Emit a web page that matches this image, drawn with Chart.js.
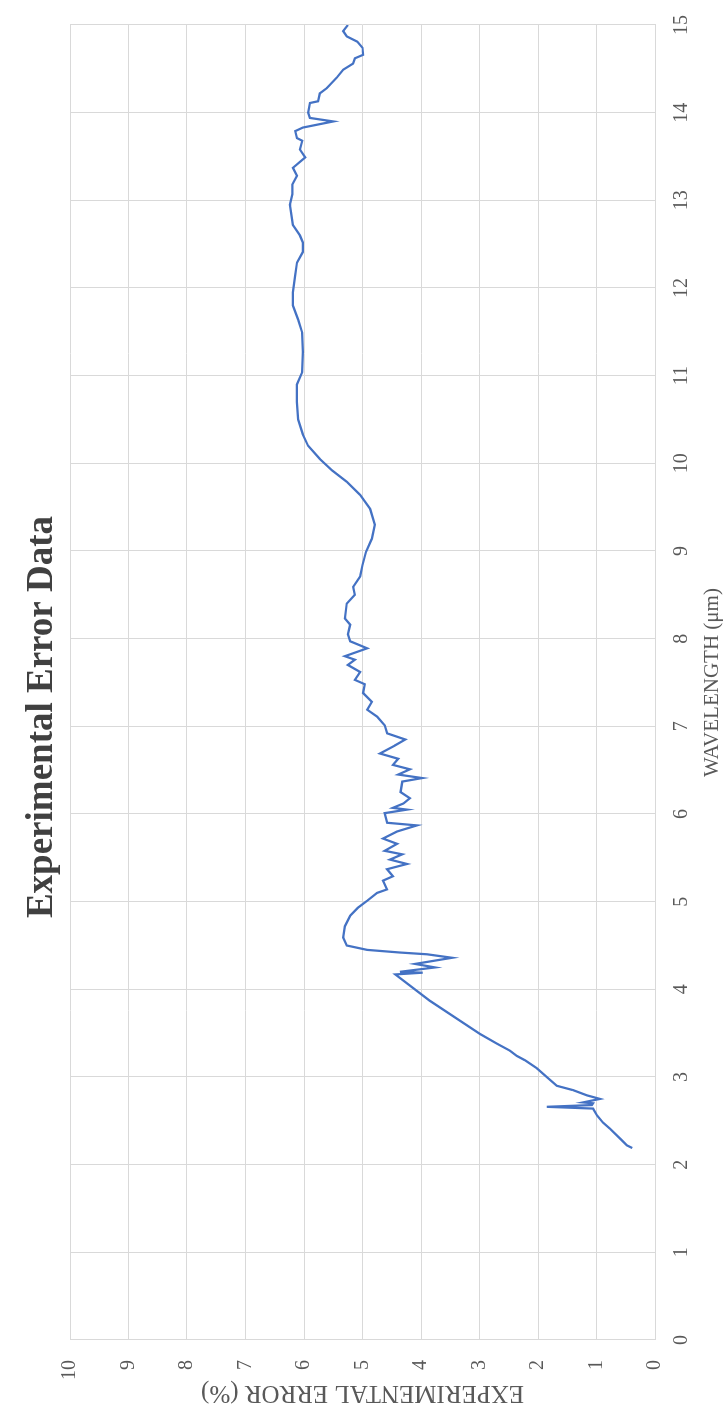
<!DOCTYPE html>
<html>
<head>
<meta charset="utf-8">
<script src="https://cdn.jsdelivr.net/npm/chart.js@4.4.1/dist/chart.umd.min.js"></script>
<style>
    html, body { margin: 0; padding: 0; background: #fff; overflow: hidden; width: 726px; height: 1412px; }
    /* wykres rysowany poziomo, potem obrócony o -90 stopni */
    #box {
        position: absolute; left: 0; top: 0;
        width: 1412px; height: 726px;
        transform-origin: 0 0;
        transform: translateY(1412px) rotate(-90deg);
    }
</style>
</head>
<body>
<div id="box"><canvas id="errorChart" width="1412" height="726"></canvas></div>
<script>
// Dane
const wavelength = [
    2.19, 2.22, 2.30, 2.41, 2.48, 2.56, 2.64, 2.66, 2.68, 2.70, 2.71, 2.75, 2.79, 2.85, 2.90,
    3.00, 3.10, 3.19, 3.24, 3.30, 3.38, 3.49, 3.87, 4.17, 4.19, 4.20, 4.25, 4.29, 4.36, 4.40,
    4.42, 4.45, 4.50, 4.59, 4.72, 4.84, 4.93, 5.01, 5.10, 5.14, 5.24, 5.29, 5.37, 5.43, 5.48,
    5.54, 5.58, 5.66, 5.72, 5.80, 5.87, 5.90, 6.01, 6.05, 6.07, 6.12, 6.18, 6.25, 6.37, 6.41,
    6.45, 6.51, 6.56, 6.63, 6.69, 6.78, 6.85, 6.92, 7.01, 7.11, 7.19, 7.28, 7.38, 7.48, 7.53,
    7.62, 7.70, 7.76, 7.80, 7.89, 7.97, 8.05, 8.16, 8.23, 8.40, 8.50, 8.59, 8.71, 8.84, 8.99,
    9.14, 9.30, 9.48, 9.64, 9.79, 9.92, 10.05, 10.20, 10.33, 10.50, 10.70, 10.90, 11.04, 11.27,
    11.49, 11.64, 11.80, 11.95, 12.14, 12.29, 12.41, 12.52, 12.60, 12.72, 12.95, 13.07, 13.18,
    13.28, 13.37, 13.49, 13.58, 13.68, 13.71, 13.79, 13.83, 13.90, 13.94, 14.00, 14.11, 14.13,
    14.22, 14.28, 14.40, 14.49, 14.56, 14.62, 14.66, 14.74, 14.81, 14.87, 14.93, 15.00
];
const errorPct = [
    0.39, 0.48, 0.60, 0.77, 0.89, 0.99, 1.06, 1.85, 1.08, 1.06, 1.23, 0.94, 1.16, 1.40, 1.68,
    1.85, 2.02, 2.22, 2.36, 2.48, 2.70, 2.99, 3.85, 4.44, 3.97, 4.36, 3.76, 4.10, 3.47, 3.90,
    4.36, 4.92, 5.27, 5.33, 5.30, 5.21, 5.08, 4.92, 4.75, 4.58, 4.65, 4.48, 4.58, 4.24, 4.53,
    4.32, 4.62, 4.41, 4.65, 4.41, 4.07, 4.58, 4.62, 4.24, 4.48, 4.30, 4.19, 4.35, 4.32, 3.98,
    4.39, 4.19, 4.48, 4.39, 4.70, 4.45, 4.27, 4.58, 4.62, 4.75, 4.92, 4.84, 4.99, 4.96, 5.13,
    5.04, 5.25, 5.13, 5.30, 4.92, 5.21, 5.25, 5.21, 5.30, 5.27, 5.13, 5.16, 5.04, 5.00, 4.94,
    4.84, 4.79, 4.87, 5.04, 5.27, 5.52, 5.73, 5.93, 6.02, 6.10, 6.12, 6.12, 6.03, 6.02,
    6.03, 6.10, 6.19, 6.19, 6.15, 6.12, 6.02, 6.02, 6.07, 6.19, 6.24, 6.20, 6.20,
    6.12, 6.19, 5.98, 6.07, 6.03, 6.12, 6.15, 6.02, 5.50, 5.90, 5.93, 5.90, 5.76,
    5.73, 5.61, 5.44, 5.33, 5.16, 5.13, 4.99, 5.00, 5.09, 5.27, 5.33, 5.25
];
const xTicks = [0, 1, 2, 3, 4, 5, 6, 7, 8, 9, 10, 11, 12, 13, 14, 15];
const yTicks = [0, 1, 2, 3, 4, 5, 6, 7, 8, 9, 10];

document.addEventListener('DOMContentLoaded', function() {
    const points = wavelength.map((w, i) => ({ x: w, y: errorPct[i] }));
    const ctx = document.getElementById('errorChart').getContext('2d');
    new Chart(ctx, {
        type: 'scatter',
        data: {
            datasets: [{
                data: points,
                showLine: true,
                borderColor: '#4472C4',
                borderWidth: 2.25,
                pointRadius: 0,
                tension: 0
            }]
        },
        options: {
            responsive: false,
            animation: false,
            devicePixelRatio: 1,
            layout: { padding: { left: 0, right: 22, top: 0, bottom: 0 } },
            scales: {
                x: {
                    min: 0,
                    max: 15,
                    afterBuildTicks: function(scale) {
                        scale.ticks = xTicks.map(v => ({ value: v }));
                    },
                    afterFit: function(scale) { scale.height = 71; },
                    grid: { color: '#d9d9d9', drawTicks: false },
                    border: { color: '#d9d9d9' },
                    ticks: {
                        padding: 15,
                        maxRotation: 0,
                        color: '#595959',
                        font: { family: 'Liberation Serif', size: 20 }
                    },
                    title: {
                        display: true,
                        text: 'WAVELENGTH (μm)',
                        color: '#595959',
                        padding: { top: 0, bottom: 1 },
                        font: { family: 'Liberation Serif', size: 21 }
                    }
                },
                y: {
                    min: 0,
                    max: 10,
                    afterBuildTicks: function(scale) {
                        scale.ticks = yTicks.map(v => ({ value: v }));
                    },
                    afterFit: function(scale) { scale.width = 72; },
                    grid: { color: '#d9d9d9', drawTicks: false },
                    border: { color: '#d9d9d9' },
                    ticks: {
                        padding: 20,
                        color: '#595959',
                        font: { family: 'Liberation Serif', size: 20 }
                    },
                    title: {
                        display: true,
                        text: 'EXPERIMENTAL ERROR (%)',
                        color: '#595959',
                        padding: { top: 4, bottom: 0 },
                        font: { family: 'Liberation Serif', size: 25 }
                    }
                }
            },
            plugins: {
                legend: { display: false },
                tooltip: { enabled: false },
                title: {
                    display: true,
                    text: 'Experimental Error Data',
                    color: '#404040',
                    padding: { top: 20, bottom: 5.6 },
                    font: { family: 'Liberation Serif', size: 37, weight: 'bold' }
                }
            }
        }
    });
});
</script>
</body>
</html>
